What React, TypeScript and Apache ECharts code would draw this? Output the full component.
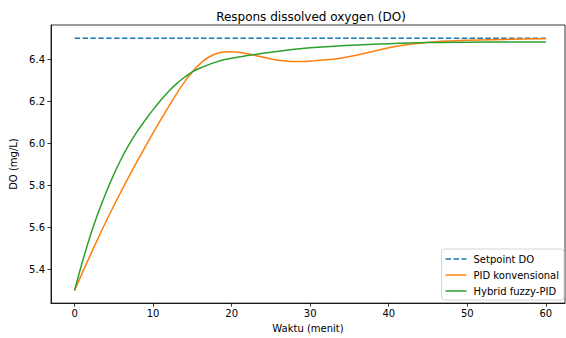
import React, { useEffect, useRef } from "react";
import * as echarts from "echarts";

const setpointT = [0, 60];
const setpointDO = [6.5, 6.5];

const pidT = [0, 1, 2, 3, 4, 5, 6, 7, 8, 9, 10, 11, 12, 13, 14, 15, 16, 17, 18, 19, 20, 21, 22, 23, 24, 25, 26, 27, 28, 29, 30, 32, 34, 36, 38, 40, 42, 44, 46, 48, 50, 53, 56, 60];
const pidDO = [5.3, 5.385, 5.468, 5.549, 5.627, 5.703, 5.776, 5.847, 5.916, 5.983, 6.05, 6.114, 6.176, 6.236, 6.292, 6.34, 6.379, 6.408, 6.426, 6.434, 6.435, 6.432, 6.426, 6.418, 6.409, 6.401, 6.395, 6.391, 6.389, 6.389, 6.391, 6.397, 6.406, 6.42, 6.437, 6.454, 6.467, 6.476, 6.483, 6.487, 6.49, 6.493, 6.495, 6.497];

const fuzzyT = [0, 1, 2, 3, 4, 5, 6, 7, 8, 9, 10, 11, 12, 13, 14, 15, 16, 17, 18, 19, 20, 22, 24, 26, 28, 30, 33, 36, 40, 45, 50, 55, 60];
const fuzzyDO = [5.3, 5.437, 5.56, 5.668, 5.765, 5.852, 5.93, 5.998, 6.058, 6.11, 6.16, 6.206, 6.248, 6.284, 6.314, 6.34, 6.358, 6.373, 6.386, 6.397, 6.405, 6.417, 6.428, 6.438, 6.447, 6.454, 6.462, 6.468, 6.474, 6.479, 6.481, 6.482, 6.482];

const xTicks = [0, 10, 20, 30, 40, 50, 60];
const yTicks = [5.4, 5.6, 5.8, 6.0, 6.2, 6.4];

const pairs = (xs: number[], ys: number[]) => xs.map((x, i) => [x, ys[i]]);

const solidIcon = "path://M0,0h21v1.5h-21z";
const dashIcon = "path://M0,0h5.5v1.5h-5.5z M8,0h5.5v1.5h-5.5z M16,0h5v1.5h-5z";

export default function App() {
  const ref = useRef<HTMLDivElement>(null);
  useEffect(() => {
    if (!ref.current) return;
    const chart = echarts.init(ref.current, undefined, { renderer: "svg" });
    const font = "DejaVu Sans";
    chart.setOption({
      animation: false,
      backgroundColor: "#ffffff",
      title: {
        text: "Respons dissolved oxygen (DO)",
        left: 306,
        textAlign: "center",
        top: 6,
        textStyle: { fontFamily: font, fontSize: 12, fontWeight: "normal", color: "#000" },
      },
      grid: {
        left: 48,
        top: 25,
        right: 1,
        bottom: 34,
        show: true,
        borderColor: "#000",
        borderWidth: 0.8,
        backgroundColor: "transparent",
      },
      legend: {
        orient: "vertical",
        right: 2,
        bottom: 38,
        itemWidth: 21,
        itemHeight: 1.5,
        itemGap: 4,
        padding: [4, 5, 3, 4],
        borderColor: "#d6d6d6",
        borderWidth: 1,
        borderRadius: 3,
        backgroundColor: "rgba(255,255,255,0.8)",
        textStyle: { fontFamily: font, fontSize: 10, color: "#000", lineHeight: 12, padding: [0, 0, 0, 2] },
        data: [
          { name: "Setpoint DO", icon: dashIcon },
          { name: "PID konvensional", icon: solidIcon },
          { name: "Hybrid fuzzy-PID", icon: solidIcon },
        ],
      },
      xAxis: {
        type: "value",
        min: -3,
        max: 62.44,
        name: "Waktu (menit)",
        nameLocation: "middle",
        nameGap: 18,
        nameTextStyle: { fontFamily: font, fontSize: 10, color: "#000" },
        axisLine: { show: true, onZero: false, lineStyle: { color: "#000", width: 0.8 } },
        axisTick: { show: true, length: 3.5, lineStyle: { color: "#000", width: 0.8 }, customValues: xTicks },
        axisLabel: { fontFamily: font, fontSize: 10, color: "#000", margin: 5, customValues: xTicks },
        splitLine: { show: false },
      },
      yAxis: {
        type: "value",
        min: 5.24,
        max: 6.5626,
        name: "DO (mg/L)",
        nameLocation: "middle",
        nameGap: 33,
        nameTextStyle: { fontFamily: font, fontSize: 10, color: "#000" },
        axisLine: { show: true, onZero: false, lineStyle: { color: "#000", width: 0.8 } },
        axisTick: { show: true, length: 3.5, lineStyle: { color: "#000", width: 0.8 }, customValues: yTicks },
        axisLabel: {
          fontFamily: font,
          fontSize: 10,
          color: "#000",
          margin: 6,
          customValues: yTicks,
          formatter: (v: number) => v.toFixed(1),
        },
        splitLine: { show: false },
      },
      series: [
        {
          name: "Setpoint DO",
          type: "line",
          data: pairs(setpointT, setpointDO),
          symbol: "none",
          color: "#1f77b4",
          lineStyle: { color: "#1f77b4", width: 1.5, type: [5.5, 2.4] },
        },
        {
          name: "PID konvensional",
          type: "line",
          data: pairs(pidT, pidDO),
          symbol: "none",
          smooth: 0.4,
          color: "#ff7f0e",
          lineStyle: { color: "#ff7f0e", width: 1.5 },
        },
        {
          name: "Hybrid fuzzy-PID",
          type: "line",
          data: pairs(fuzzyT, fuzzyDO),
          symbol: "none",
          smooth: 0.4,
          color: "#2ca02c",
          lineStyle: { color: "#2ca02c", width: 1.5 },
        },
      ],
    });
    return () => chart.dispose();
  }, []);
  return <div ref={ref} style={{ width: 566, height: 338, position: "fixed", left: 0, top: 0 }} />;
}
